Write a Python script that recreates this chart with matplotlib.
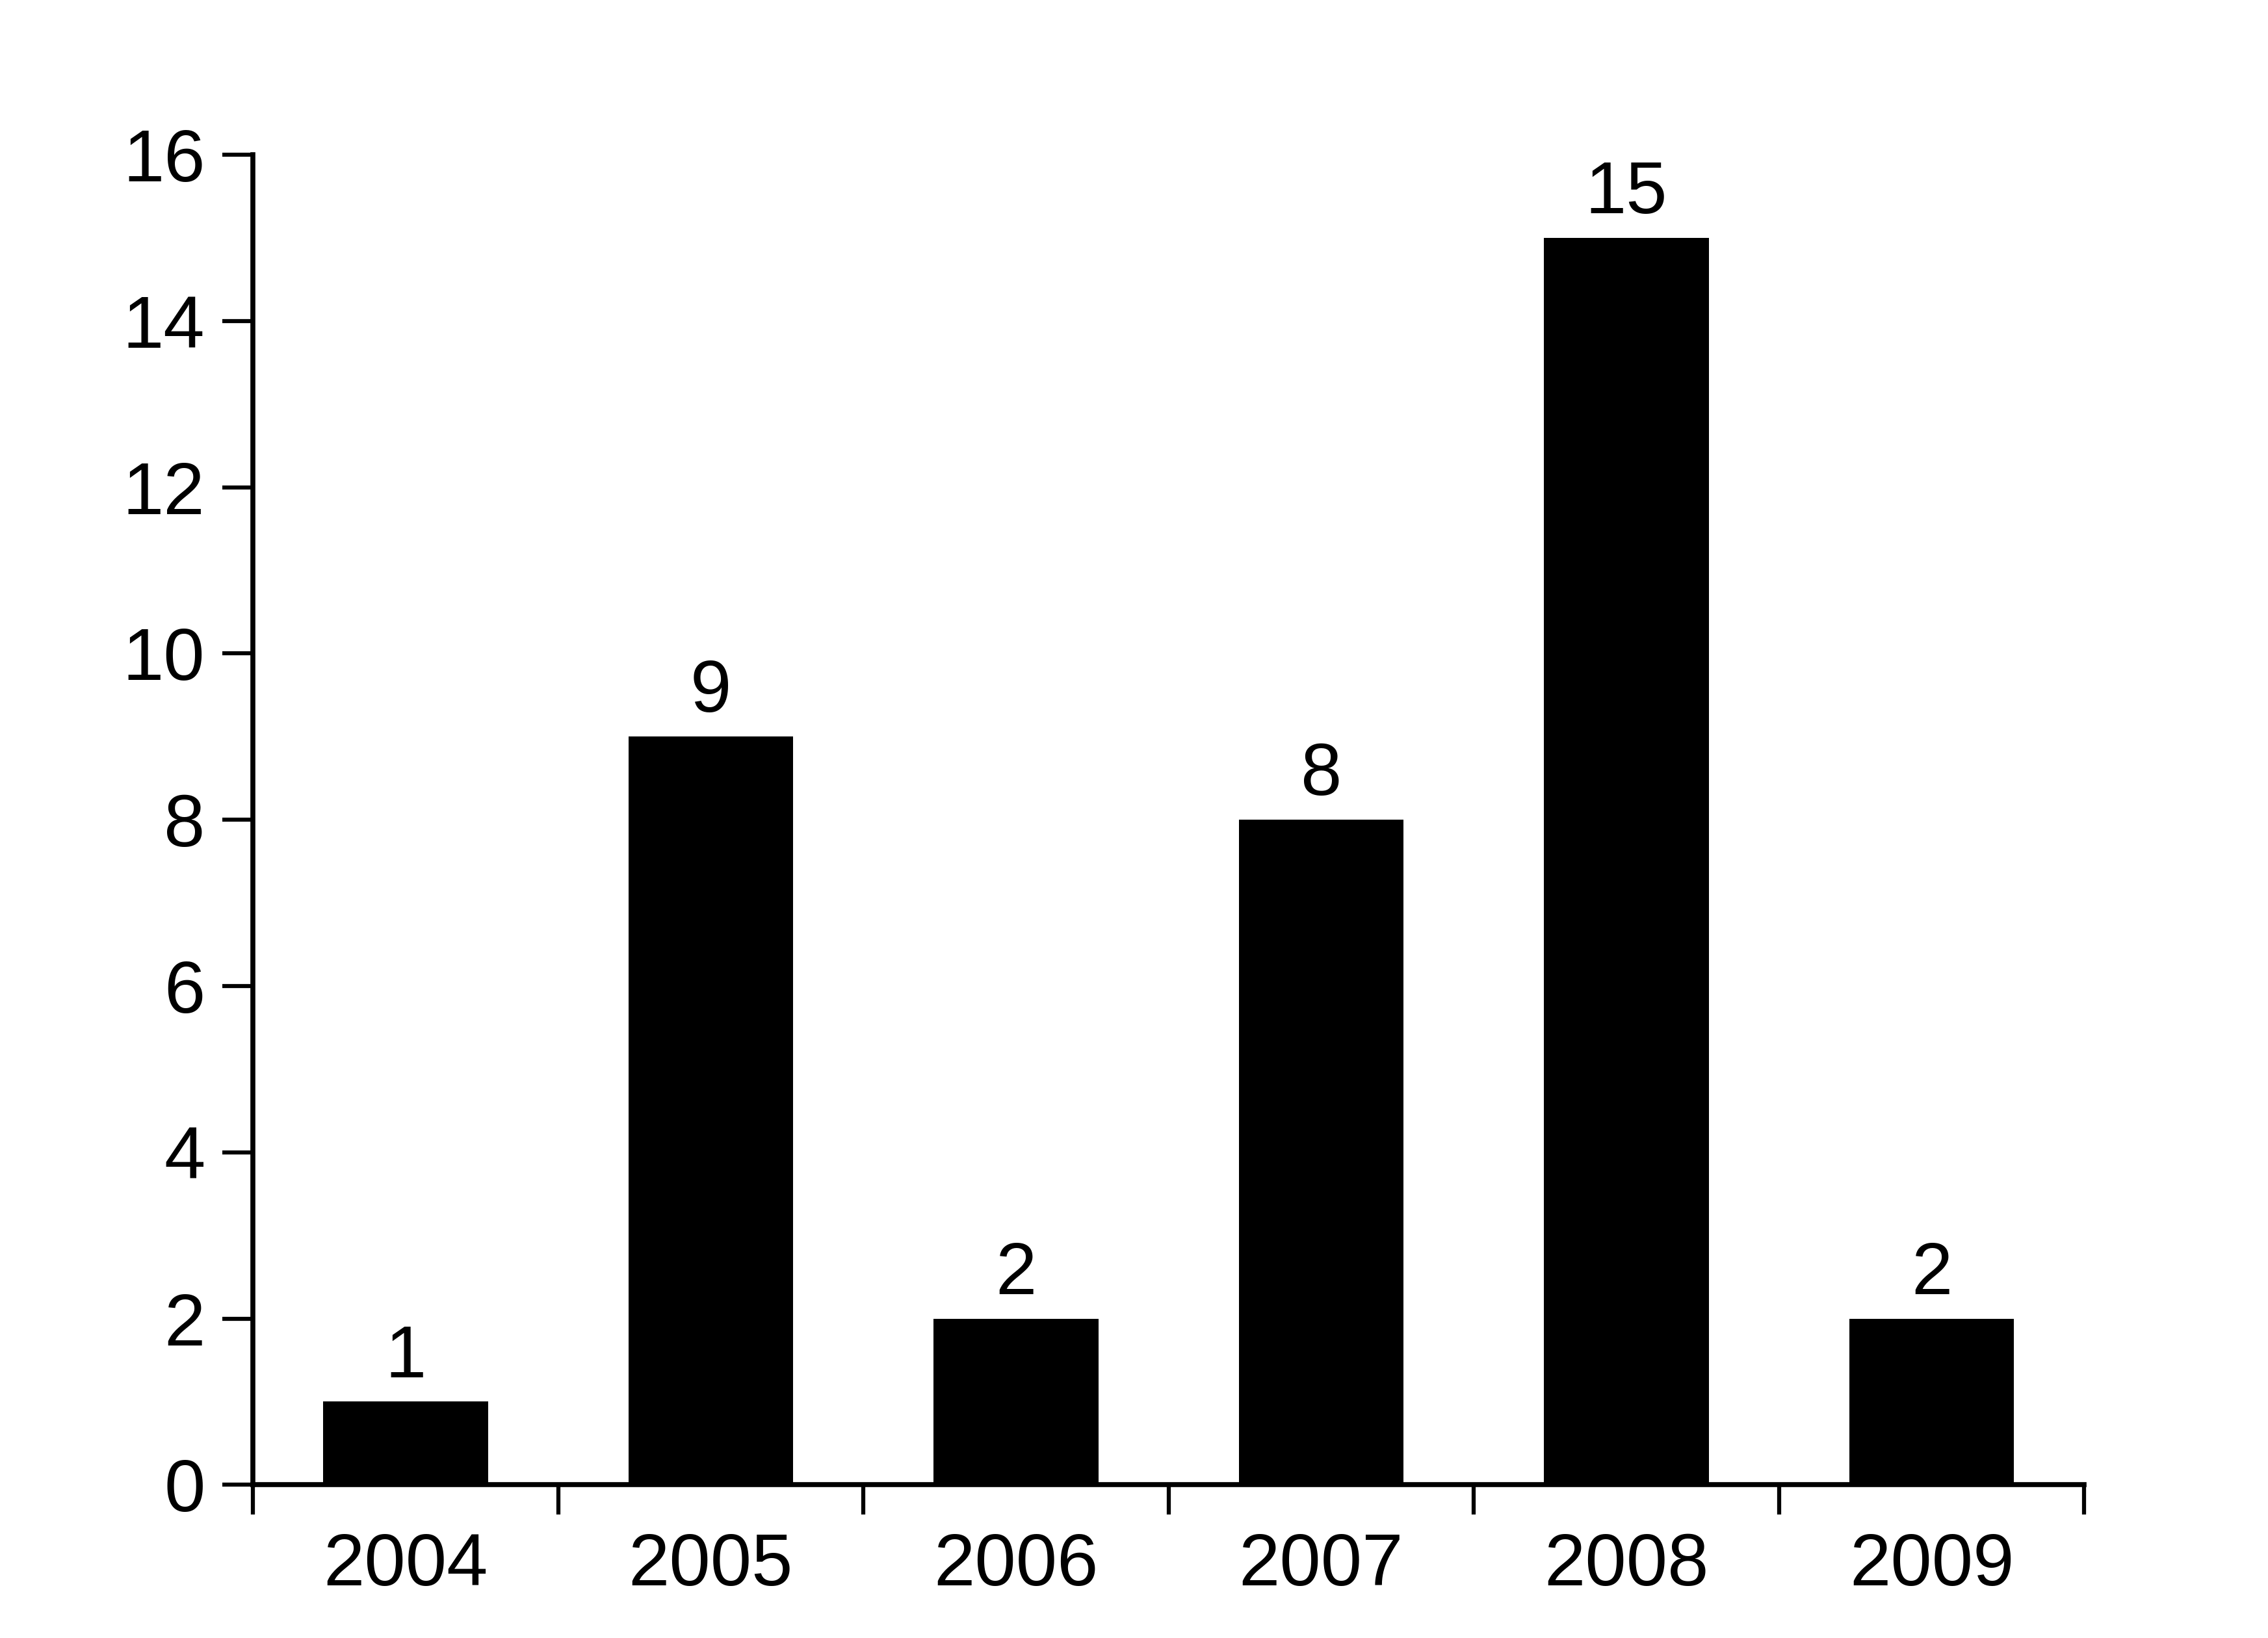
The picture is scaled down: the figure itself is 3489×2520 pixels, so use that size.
import matplotlib.pyplot as plt
import numpy as np

plt.rcParams['font.family'] = ['Liberation Sans', 'DejaVu Sans']

years = ['2004', '2005', '2006', '2007', '2008', '2009']
counts = [1, 9, 2, 8, 15, 2]

fig = plt.figure(figsize=(34.89, 25.2), dpi=100)
ax = fig.add_axes([0.1115, 0.0935, 0.8075, 0.812])

x = np.arange(len(years))
bars = ax.bar(x, counts, width=0.54, color='black')
ax.bar_label(bars, labels=[str(c) for c in counts], padding=10, fontsize=82)

ax.set_xlim(-0.5, len(years) - 0.5)
ax.set_ylim(0, 16)
ax.set_yticks(np.arange(0, 17, 2))
ax.set_xticks(x)
ax.set_xticklabels(years)
ax.set_xticks(np.arange(-0.5, len(years), 1), minor=True)

for side in ['top', 'right']:
    ax.spines[side].set_visible(False)
for side in ['left', 'bottom']:
    ax.spines[side].set_linewidth(5.5)

ax.tick_params(axis='x', which='major', length=0, pad=52, labelsize=82)
ax.tick_params(axis='x', which='minor', length=33, width=4.5, direction='out')
ax.tick_params(axis='y', length=34, width=4.5, pad=19, labelsize=82)

fig.savefig('out.png', dpi=100, facecolor='white')
